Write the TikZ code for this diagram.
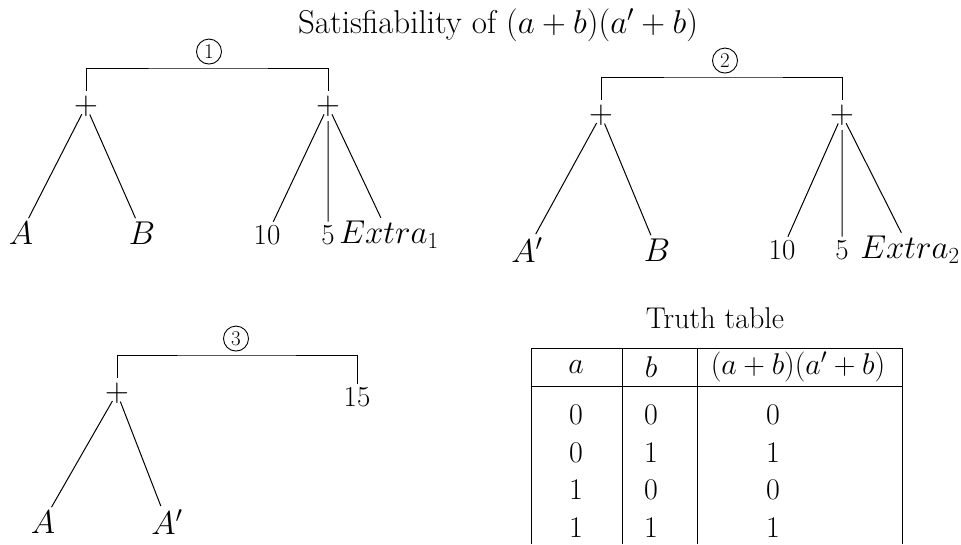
\documentclass[tikz,border=0pt]{standalone}
\usepackage{fix-cm}
\usepackage{fontspec}
\usetikzlibrary{positioning}

\tikzset{
  op/.style={circle, inner sep=-5pt},
  leaf/.style={inner sep=3pt},
  numleaf/.style={inner sep=3pt, font=\fontsize{29}{33}\selectfont},
  stepmark/.style={draw, circle, line width=0.9pt, minimum size=25pt, inner sep=0pt,
    font=\fontsize{21}{23}\selectfont},
  tabtext/.style={font=\fontsize{30}{34}\selectfont},
}

\begin{document}
\begin{tikzpicture}[x=1pt, y=-1pt, line width=1pt, font=\fontsize{33}{39}\selectfont]
    \useasboundingbox (0,0) rectangle (961,544);

    \node (title) at (498,25) {Satisfiability of \((a+b)(a'+b)\)};

    % first tree
    \coordinate (top1) at (209,68);
    \node[stepmark, above=3.5pt of top1] (m1) {1};
    \node[op] (p1) at (86,106) {\(+\)};
    \node[op] (q1) at (328,106) {\(+\)};
    \node[leaf] (a1) at (21,233) {\(A\)};
    \node[leaf] (b1) at (142,233) {\(B\)};
    \node[numleaf] (ten1) at (267,235) {10};
    \node[numleaf] (five1) at (328,235) {5};
    \node[leaf] (x1) at (389,235) {\(Extra_1\)};
    \draw ([yshift=6pt]p1.north) |- (top1) -| ([yshift=6pt]q1.north);
    \draw (p1) -- (a1) (p1) -- (b1);
    \draw (q1) -- (ten1) ([yshift=-6pt]q1.south) -- (five1) (q1) -- (x1);

    % second tree
    \coordinate (top2) at (725,77);
    \node[stepmark, above=3.5pt of top2] (m2) {2};
    \node[op] (p2) at (601,115) {\(+\)};
    \node[op] (q2) at (842,115) {\(+\)};
    \node[leaf] (a2) at (527,250) {\(A'\)};
    \node[leaf] (b2) at (657,250) {\(B\)};
    \node[numleaf] (ten2) at (782,250) {10};
    \node[numleaf] (five2) at (842,250) {5};
    \node[leaf] (x2) at (910,250) {\(Extra_2\)};
    \draw ([yshift=6pt]p2.north) |- (top2) -| ([yshift=6pt]q2.north);
    \draw (p2) -- (a2) (p2) -- (b2);
    \draw (q2) -- (ten2) ([yshift=-6pt]q2.south) -- (five2) (q2) -- (x2);

    % third tree
    \coordinate (top3) at (236,355);
    \node[stepmark, above=3.5pt of top3] (m3) {3};
    \node[op] (p3) at (117,393) {\(+\)};
    \node[numleaf] (fifteen3) at (357,397) {15};
    \node[leaf] (a3) at (43,522) {\(A\)};
    \node[leaf] (na3) at (167,522) {\(A'\)};
    \draw ([yshift=6pt]p3.north) |- (top3) -| (fifteen3);
    \draw (p3) -- (a3) (p3) -- (na3);

    % truth table
    \node[tabtext] (tt) at (715,318) {Truth table};
    \draw (531,544) |- (902,348) -- (902,544);
    \draw (531,386) -- (902,386);
    \draw (622,348) -- (622,544) (697,348) -- (697,544);
    \node[tabtext] (ha) at (576,367) {\(a\)};
    \node[tabtext] (hb) at (651,367) {\(b\)};
    \node[tabtext] (hf) at (798,367) {\((a+b)(a'+b)\)};
    \foreach \va/\vb/\vf [count=\i] in {0/0/0, 0/1/1, 1/0/0, 1/1/1} {
        \node[tabtext] (ra\i) at (576,377.5+37.5*\i) {\(\va\)};
        \node[tabtext] (rb\i) at (651,377.5+37.5*\i) {\(\vb\)};
        \node[tabtext] (rf\i) at (773,377.5+37.5*\i) {\(\vf\)};
    }
\end{tikzpicture}
\end{document}
